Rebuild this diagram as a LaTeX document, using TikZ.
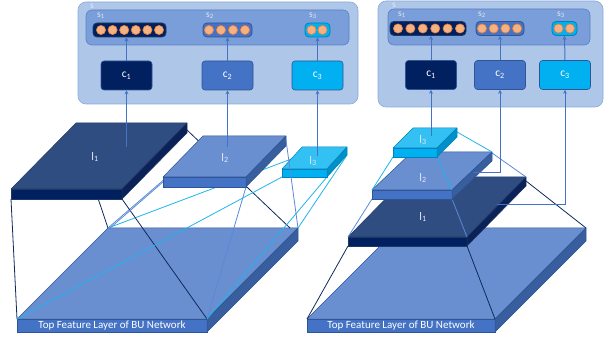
\documentclass[tikz,border=0pt]{standalone}
\usepackage{fontspec}
\setmainfont{Carlito}
\usetikzlibrary{arrows.meta}
\definecolor{outerF}{HTML}{AEC7E9}
\definecolor{outerD}{HTML}{8AAADB}
\definecolor{innerF}{HTML}{7A9ED9}
\definecolor{innerD}{HTML}{5A80C6}
\definecolor{cA}{HTML}{002060}
\definecolor{cB}{HTML}{4472C4}
\definecolor{cC}{HTML}{00B0F0}
\definecolor{dotF}{HTML}{F4B183}
\definecolor{dotD}{HTML}{ED7D31}
\definecolor{baseTop}{HTML}{6A8FD0}
\definecolor{baseFront}{HTML}{4472C4}
\definecolor{baseSide}{HTML}{395E9E}
\definecolor{baseEdge}{HTML}{2F5597}
\definecolor{oneTop}{HTML}{2F4D80}
\definecolor{oneFront}{HTML}{002060}
\definecolor{oneSide}{HTML}{0A2257}
\definecolor{oneEdge}{HTML}{1F3864}
\definecolor{twoTop}{HTML}{6A8FD0}
\definecolor{twoFront}{HTML}{4472C4}
\definecolor{twoSide}{HTML}{395E9E}
\definecolor{twoEdge}{HTML}{2F5597}
\definecolor{threeTop}{HTML}{33C1F4}
\definecolor{threeFront}{HTML}{00B0F0}
\definecolor{threeSide}{HTML}{0090C8}
\definecolor{threeEdge}{HTML}{0082BA}
\definecolor{darkL}{HTML}{0F2A5C}
\definecolor{lightL}{HTML}{5A8AD6}
\definecolor{cyanL}{HTML}{1FB4EE}
\definecolor{labC}{HTML}{E2E9F5}
\newcommand\slab[7]{%
  \filldraw[draw=#7Edge, fill=#7Top, line width=0.5pt, line join=round] (#1,#2) -- ++(#3,0) -- ++(#4,-#5) -- ++(-#3,0) -- cycle;
  \filldraw[draw=#7Edge, fill=#7Front, line width=0.5pt] (#1,#2) rectangle ++(#3,#6);
  \filldraw[draw=#7Edge, fill=#7Side, line width=0.5pt, line join=round] (#1+#3,#2) -- ++(#4,-#5) -- ++(0,#6) -- ++(-#4,#5) -- cycle;
}
\newcommand\dotrow[4]{% y, first x, spacing, count
  \foreach \k in {1,...,#4}{\filldraw[draw=dotD, fill=dotF, line width=0.6pt] ({#2+(\k-1)*#3},#1) circle[radius=4.6pt];}
}
\begin{document}
\begin{tikzpicture}[x=1pt,y=-1pt,
  outerbox/.style={draw=outerD, fill=outerF, rounded corners=8pt, line width=0.6pt},
  innerbox/.style={draw=innerD, fill=innerF, rounded corners=6pt, line width=0.6pt},
  cbox/.style={draw=baseEdge, rounded corners=3pt, minimum width=51pt, minimum height=29pt, inner sep=0pt, text=white, font=\fontsize{11.5}{13}\selectfont, line width=0.6pt},
  sbar/.style={rounded corners=4pt, minimum height=14pt, inner sep=0pt, line width=0.8pt},
  slab label/.style={text=labC, font=\fontsize{11.5}{13}\selectfont, inner sep=0pt},
  stext/.style={text=labC, font=\fontsize{9.5}{11}\selectfont, inner sep=0pt},
  conn/.style={draw=cB, line width=1pt},
  arr/.style={conn, -{Stealth[length=4pt,width=4pt]}},
  darkline/.style={draw=darkL, line width=0.8pt},
  lightline/.style={draw=lightL, line width=0.8pt},
  cyanline/.style={draw=cyanL, line width=0.8pt},
  basetext/.style={text=white, font=\fontsize{11}{13}\selectfont, inner sep=0pt}
]
\useasboundingbox (0,0) rectangle (605,339);

% ================= LEFT PANEL: top boxes =================
\draw[outerbox] (78,2) rectangle (358,104);
\node[stext] (sL) at (92,6) {s};
\draw[innerbox] (86,10) rectangle (349,45);
\node[sbar, draw=oneEdge, fill=cA, minimum width=73pt] (s1L) at (129.5,30) {};
\node[sbar, draw=baseEdge, fill=cB, minimum width=49pt] (s2L) at (227.5,30) {};
\node[sbar, draw=threeEdge, fill=cC, minimum width=25pt] (s3L) at (317.5,30) {};
\dotrow{30}{101}{11.6}{6}
\dotrow{30}{209}{12}{4}
\dotrow{30}{311.5}{11}{2}
\node[stext] (s1Llab) at (101,16) {s\textsubscript{1}};
\node[stext] (s2Llab) at (210,16) {s\textsubscript{2}};
\node[stext] (s3Llab) at (313,16) {s\textsubscript{3}};
\node[cbox, fill=cA] (c1L) at (126.5,75.5) {c\textsubscript{1}};
\node[cbox, fill=cB] (c2L) at (227.5,75.5) {c\textsubscript{2}};
\node[cbox, fill=cC] (c3L) at (317.5,75.5) {c\textsubscript{3}};
\draw[arr] (c1L.north) -- (c1L.north |- s1L.south);
\draw[arr] (c2L.north) -- (s2L.south);
\draw[arr] (c3L.north) -- (s3L.south);

% ================= LEFT PANEL: slabs =================
\slab{17}{319}{190}{91}{91}{13}{base}
\node[basetext] (baseLtext) at (112,326) {Top Feature Layer of BU Network};
% lines hidden behind upper slabs
\draw[darkline] (76,133) -- (108,228);
\draw[darkline] (187,130) -- (290,228);
\draw[lightline] (203,146) -- (108,228);
\draw[cyanline] (302,155) -- (108,228);
% visible lines
\draw[darkline] (11,199) -- (17,319);
\draw[darkline] (122,199) -- (207,319);
\draw[lightline] (163,182) -- (110,228);
\draw[lightline] (246,187) -- (207,319);
\draw[cyanline] (282,177) -- (17,319);
\draw[cyanline] (327,177) -- (207,319);
\draw[cyanline] (347,155) -- (298,228);
\slab{11}{189}{111}{65}{66}{10}{one}
\slab{163}{177}{83}{40}{41}{10}{two}
\slab{282}{169}{45}{20}{22}{8}{three}
\draw[lightline] (286,140) -- (298,228);
\node[slab label] (l1L) at (95,157) {l\textsubscript{1}};
\node[slab label] (l2L) at (225,158) {l\textsubscript{2}};
\node[slab label] (l3L) at (313,161) {l\textsubscript{3}};
\coordinate (p1L) at (126.5,147);
\coordinate (p2L) at (227.5,147);
\coordinate (p3L) at (317.5,156);
\draw[arr] (p1L) -- (c1L.south);
\draw[arr] (p2L) -- (c2L.south);
\draw[arr] (p3L) -- (c3L.south);

% ================= RIGHT PANEL: top boxes =================
\draw[outerbox] (378,1) rectangle (603,107);
\node[stext] (sR) at (394,5) {s};
\draw[innerbox] (388,9) rectangle (590,45);
\node[sbar, draw=oneEdge, fill=cA, minimum width=76pt] (s1R) at (428,28.5) {};
\node[sbar, draw=baseEdge, fill=cB, minimum width=48pt] (s2R) at (500,28.5) {};
\node[sbar, draw=threeEdge, fill=cC, minimum width=25pt] (s3R) at (564.5,28.5) {};
\dotrow{28.5}{398}{12.4}{6}
\dotrow{28.5}{482}{11.7}{4}
\dotrow{28.5}{558.5}{11.5}{2}
\node[stext] (s1Rlab) at (402,15) {s\textsubscript{1}};
\node[stext] (s2Rlab) at (482,15) {s\textsubscript{2}};
\node[stext] (s3Rlab) at (561,15) {s\textsubscript{3}};
\node[cbox, fill=cA] (c1R) at (431,75) {c\textsubscript{1}};
\node[cbox, fill=cB] (c2R) at (500,75) {c\textsubscript{2}};
\node[cbox, fill=cC] (c3R) at (565,75) {c\textsubscript{3}};
\draw[arr] (c1R.north) -- (c1R.north |- s1R.south);
\draw[arr] (c2R.north) -- (s2R.south);
\draw[arr] (c3R.north) -- (s3R.south);

% ================= RIGHT PANEL: pyramid =================
\slab{307}{319}{188}{91}{91}{13}{base}
\node[basetext] (baseRtext) at (401,326) {Top Feature Layer of BU Network};
\draw[darkline] (348,246) -- (307,319);
\draw[darkline] (467,246) -- (495,319);
\draw[darkline] (526,181) -- (586,228);
\slab{348}{237}{119}{59}{60}{9}{one}
\draw[lightline] (372,199) -- (348,237);
\draw[lightline] (452,199) -- (467,237);
\draw[lightline] (492,153) -- (526,177);
\slab{372}{190}{80}{40}{38}{9}{two}
\draw[cyanline] (393,157) -- (372,190);
\draw[cyanline] (437,157) -- (452,190);
\draw[cyanline] (457,132) -- (492,152);
\slab{393}{148}{44}{20}{20}{9}{three}
\node[slab label] (l3R) at (423,140) {l\textsubscript{3}};
\node[slab label] (l2R) at (423,178) {l\textsubscript{2}};
\node[slab label] (l1R) at (423,217) {l\textsubscript{1}};
\coordinate (p1R) at (431,136);
\coordinate (p2R) at (474,173);
\coordinate (p3R) at (497,205);
\draw[arr] (p1R) -- (c1R.south);
\draw[arr] (p2R) -| (c2R.south);
\draw[arr] (p3R) -| (c3R.south);
\end{tikzpicture}
\end{document}
